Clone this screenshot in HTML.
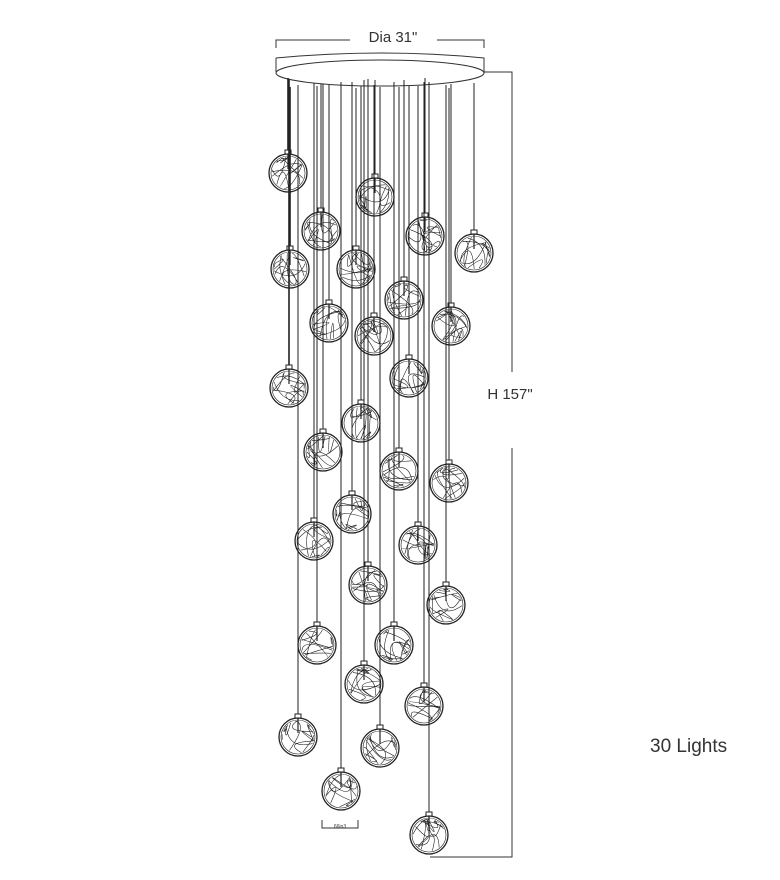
<!DOCTYPE html>
<html><head><meta charset="utf-8"><style>
body{margin:0;background:#fff;width:780px;height:880px;overflow:hidden}
svg{display:block}
text{font-family:"Liberation Sans",sans-serif;fill:#333}
</style></head><body>
<svg id="s" width="780" height="880" viewBox="0 0 780 880" xmlns="http://www.w3.org/2000/svg">
<g fill="none" stroke="#333" stroke-width="1">
<path d="M276 48 V40 H350 M437 40 H484 V48"/>
<path d="M484 72 H512 V372 M512 448 V857 H430"/>
<path d="M276 58 Q383 48 484 58 V72"/>
<path d="M276 58 V72"/>
<ellipse cx="380" cy="73" rx="104" ry="13" fill="#fff"/>
<path d="M322 820 V828 H358 V820"/>
</g>
<text x="393" y="42" font-size="15" text-anchor="middle">Dia 31"</text>
<text x="510" y="399" font-size="15" text-anchor="middle">H 157"</text>
<text x="650" y="752" font-size="19">30 Lights</text>
<text x="340" y="828" font-size="5" text-anchor="middle">66in3</text>
<g id="w" stroke="#222" stroke-width="1" fill="none"></g>
</svg>
<script>
var b=[[288,173],[375,197],[321,231],[425,236],[474,253],[290,269],[356,269],[404,300],[329,323],[451,326],[374,336],[289,388],[409,378],[361,423],[323,452],[399,471],[449,483],[352,514],[314,541],[418,545],[368,585],[446,605],[317,645],[394,645],[364,684],[424,706],[298,737],[380,748],[341,791],[429,835]];
var g=document.getElementById('w'),h='',seed=7;
function r(){seed=(seed*16807)%2147483647;return seed/2147483647;}
b.forEach(function(p){var x=p[0],y=p[1],R=19;
h+='<line x1="'+x+'" y1="'+(78+Math.round(r()*10))+'" x2="'+x+'" y2="'+(y-R-4)+'" stroke-width="'+(x<292?1.6:1)+'"/>';
h+='<rect x="'+(x-3)+'" y="'+(y-R-4)+'" width="6" height="4"/>';
h+='<circle cx="'+x+'" cy="'+y+'" r="'+R+'" stroke-width="1.3"/>';
h+='<circle cx="'+x+'" cy="'+y+'" r="'+(R-2)+'" stroke-width="0.6"/>';
var d='';for(var i=0;i<11;i++){var a=r()*6.28,c=r()*6.28,e=r()*6.28;
d+='M'+(x+16*Math.cos(a)).toFixed(1)+' '+(y+16*Math.sin(a)).toFixed(1)+' Q'+(x+16*Math.cos(e)).toFixed(1)+' '+(y+16*Math.sin(e)).toFixed(1)+' '+(x+16*Math.cos(c)).toFixed(1)+' '+(y+16*Math.sin(c)).toFixed(1);}
h+='<path d="'+d+'" stroke-width="0.6"/>';
h+='<line x1="'+x+'" y1="'+(y-R)+'" x2="'+x+'" y2="'+(y-4)+'" stroke-width="1.2"/>';});
g.innerHTML=h;
</script>
</body></html>
